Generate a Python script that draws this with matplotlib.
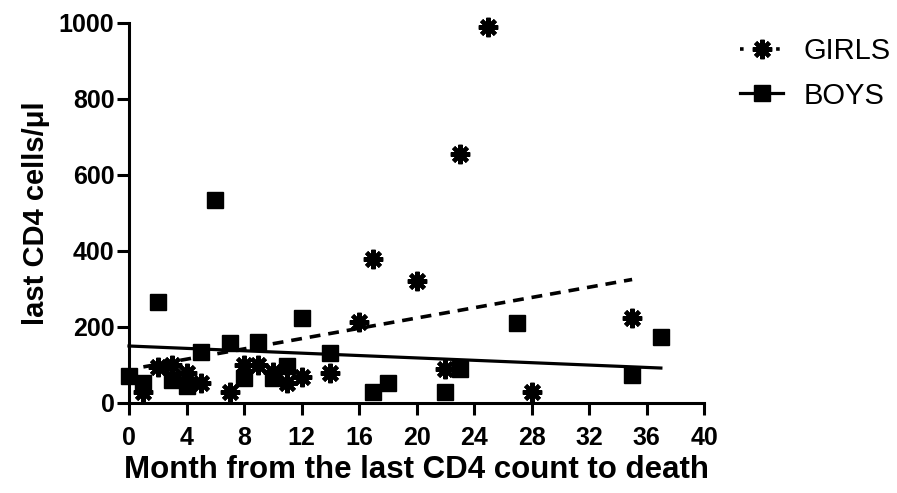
import matplotlib
matplotlib.use('Agg')
import matplotlib.pyplot as plt
from matplotlib.lines import Line2D

plt.rcParams['font.family'] = ['Liberation Sans', 'DejaVu Sans']

# girls: months from last CD4 count to death, last CD4 cells/ul
girls_month = [1, 2, 3, 4, 4, 5, 7, 8, 9, 10, 11, 12, 14, 16, 17, 20, 22, 23, 25, 28, 35]
girls_cd4 = [30, 95, 100, 78, 50, 53, 30, 100, 100, 82, 53, 69, 79, 212, 380, 320, 90, 655, 990, 30, 225]

# boys
boys_month = [0, 1, 2, 3, 4, 5, 6, 7, 8, 9, 10, 11, 12, 14, 17, 18, 22, 23, 27, 35, 37]
boys_cd4 = [70, 52, 265, 60, 45, 134, 535, 157, 66, 160, 66, 97, 225, 132, 30, 52, 30, 90, 210, 75, 175]

# regression lines
girls_fit_month = [1, 35]
girls_fit_cd4 = [95, 325]
boys_fit_month = [0, 37]
boys_fit_cd4 = [150, 92]

x_ticks = list(range(0, 41, 4))
y_ticks = list(range(0, 1001, 200))

fig = plt.figure(figsize=(8.97, 4.93), dpi=100)
ax = fig.add_axes([129 / 897, 1 - 403 / 493, 575 / 897, 380 / 493])

star = (8, 2, 0)
ax.plot(girls_fit_month, girls_fit_cd4, color='black', lw=2.6, linestyle=(0, (3, 2.2)), clip_on=False)
ax.plot(boys_fit_month, boys_fit_cd4, color='black', lw=2.3, clip_on=False)
ax.plot(boys_month, boys_cd4, linestyle='none', marker='s', ms=11.5, color='black', clip_on=False, zorder=3)
ax.plot(girls_month, girls_cd4, linestyle='none', marker=star, ms=14, mew=3.0, color='black', clip_on=False, zorder=4)

ax.set_xlim(0, 40)
ax.set_ylim(0, 1000)
ax.set_xticks(x_ticks)
ax.set_yticks(y_ticks)
for s in ['top', 'right']:
    ax.spines[s].set_visible(False)
for s in ['left', 'bottom']:
    ax.spines[s].set_linewidth(2.2)
    ax.spines[s].set_capstyle('projecting')
ax.tick_params(width=2.2, length=8.5, labelsize=18)
ax.tick_params(axis='x', pad=8)
ax.tick_params(axis='y', pad=2)
for lbl in ax.get_xticklabels() + ax.get_yticklabels():
    lbl.set_fontweight('bold')

ax.set_xlabel('Month from the last CD4 count to death', fontsize=22.5, fontweight='bold', labelpad=4)
ax.set_ylabel('last CD4 cells/\u03bcl', fontsize=21, fontweight='bold', labelpad=6)

handles = [
    Line2D([], [], color='black', lw=2.6, linestyle=(0, (1, 4)), marker=star, ms=14, mew=3.0),
    Line2D([], [], color='black', lw=2.3, marker='s', ms=11.5),
]
fig.legend(handles, ['GIRLS', 'BOYS'], loc='upper left', bbox_to_anchor=(740 / 897, 1 - 37 / 493),
           frameon=False, fontsize=21, handlelength=1.48, handletextpad=0.69, labelspacing=0.57,
           borderpad=0, borderaxespad=0)

fig.savefig('out.png', dpi=100)
